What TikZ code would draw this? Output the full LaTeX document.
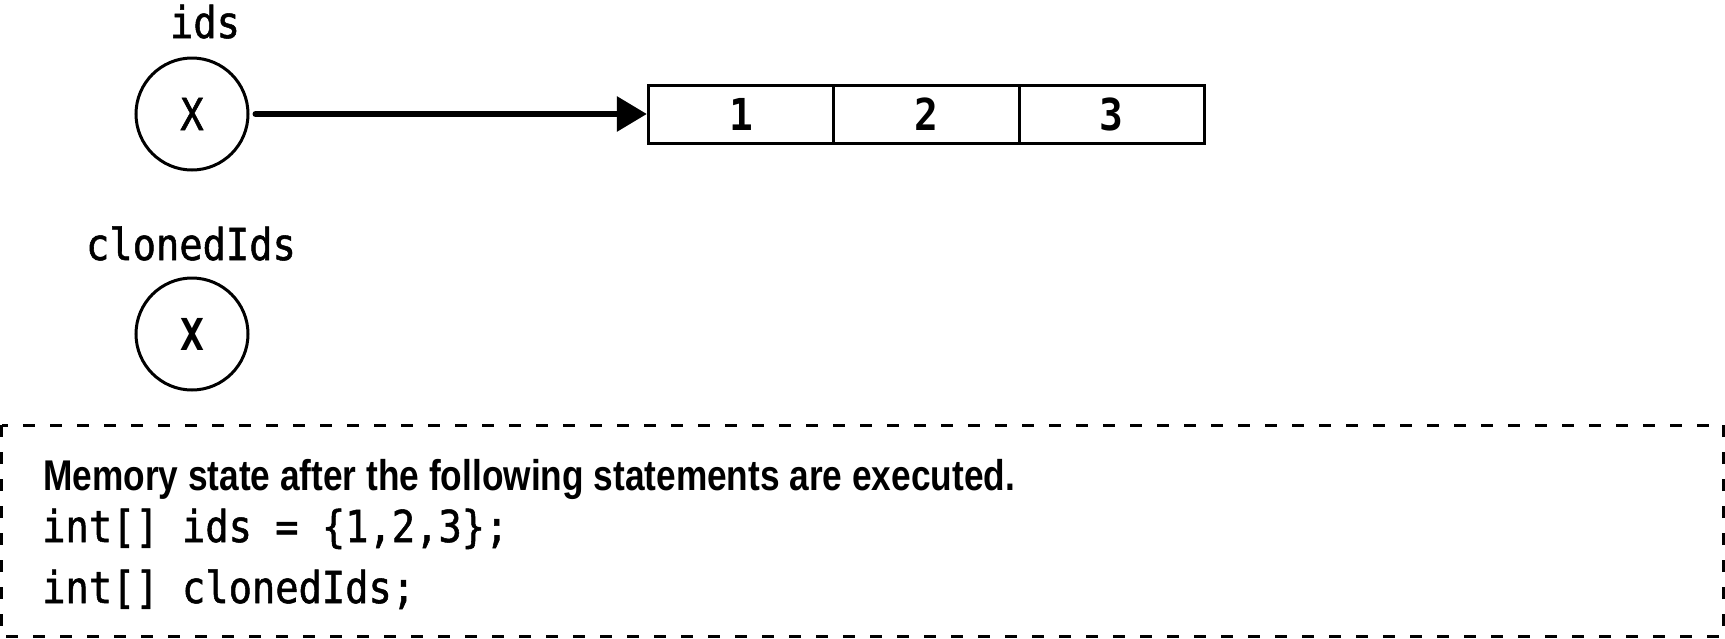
\documentclass[tikz,border=0pt]{standalone}
\usepackage{fontspec}
\setmainfont{Liberation Sans}
\newfontfamily\headfont{Liberation Sans}[FakeStretch=0.82]
\newfontfamily\codefont{DejaVu Sans Mono}[FakeStretch=0.88, FakeBold=1.2]
\newfontfamily\codebold{DejaVu Sans Mono Bold}[FakeStretch=0.9]
\usetikzlibrary{arrows.meta}
\tikzset{
  varcircle/.style={circle, draw, line width=3pt, minimum size=112pt, inner sep=0pt,
    font=\codefont\fontsize{44}{52}\selectfont},
  cellbox/.style={draw, line width=3pt, minimum width=185.3pt, minimum height=58pt,
    inner sep=0pt, font=\codebold\fontsize{44}{52}\selectfont},
  codetext/.style={anchor=base west, inner sep=0pt, font=\codefont\fontsize{44}{52}\selectfont},
  varlabel/.style={anchor=base, inner sep=0pt, font=\codefont\fontsize{44}{52}\selectfont}
}
\begin{document}
\begin{tikzpicture}[x=1pt,y=-1pt]
  \useasboundingbox (0,0) rectangle (1725,638);

  \node[varlabel] (idslabel) at (205,38) {ids};
  \node[varcircle] (idsvar) at (192,114) {X};
  \node[varlabel] (clonedlabel) at (191,260) {clonedIds};
  \node[varcircle, font=\codebold\fontsize{44}{52}\selectfont] (clonedvar) at (192,334) {X};

  \node[cellbox] (cell1) at (741,114) {1};
  \node[cellbox] (cell2) at (926.5,114) {2};
  \node[cellbox] (cell3) at (1111.8,114) {3};

  \draw[line width=6pt, line cap=round, shorten <=6pt, -{Triangle[length=30pt,width=34pt]}] (idsvar) -- (cell1.west);

  \draw[line width=3pt, dash pattern=on 12pt off 15pt] (1.5,425) rectangle (1723.5,636.5);
  \node[anchor=base west, inner sep=0pt, font=\headfont\bfseries\fontsize{43}{52}\selectfont] (notehead) at (43,490)
    {Memory state after the following statements are executed.};
  \node[codetext] (codeline1) at (42,542) {int[] ids = \{1,2,3\};};
  \node[codetext] (codeline2) at (42,603) {int[] clonedIds;};
\end{tikzpicture}
\end{document}
